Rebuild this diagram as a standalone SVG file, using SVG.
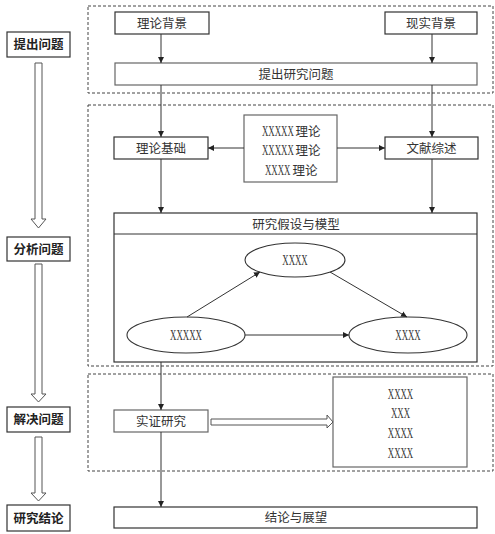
<svg xmlns="http://www.w3.org/2000/svg" width="495" height="534" viewBox="0 0 495 534">
<defs>
<marker id="ah" viewBox="0 0 10 10" refX="10" refY="5" markerWidth="6" markerHeight="6" orient="auto" markerUnits="userSpaceOnUse">
<path d="M0,0 L10,5 L0,10 z" fill="#222"/>
</marker>
<style>
.box{fill:#fff;stroke:#333;stroke-width:1.2}
.gbox{fill:#fff;stroke:#666;stroke-width:1.2}
.dash{fill:none;stroke:#444;stroke-width:1;stroke-dasharray:3,2}
.side{fill:#fff;stroke:#333;stroke-width:1.2}
.hollow{fill:#fff;stroke:#555;stroke-width:1}
.ln{fill:none;stroke:#333;stroke-width:1;marker-end:url(#ah)}
.pl{fill:none;stroke:#333;stroke-width:1}
.ell{fill:#fff;stroke:#333;stroke-width:1.1}
.lab{font-family:"Noto Sans CJK SC",sans-serif;font-size:12.5px;font-weight:bold;fill:#222;text-anchor:middle}
.zh{font-family:"Noto Sans CJK SC",sans-serif;font-size:12.5px;fill:#333;text-anchor:middle}
.x{font-family:"Liberation Serif",serif;font-size:14px;fill:#333}
.xc{font-family:"Liberation Serif",serif;font-size:14px;fill:#333;text-anchor:middle}
</style>
</defs>
<rect width="495" height="534" fill="#fff"/>

<!-- dashed regions -->
<rect class="dash" x="88" y="6" width="405" height="87"/>
<rect class="dash" x="88" y="105" width="405" height="261"/>
<rect class="dash" x="88" y="374" width="405" height="97"/>

<!-- left stage labels -->
<g id="stage1"><rect class="side" x="7" y="32" width="63" height="25"/><text class="lab" x="38.5" y="49">提出问题</text></g>
<g id="stage2"><rect class="side" x="7" y="237" width="63" height="24"/><text class="lab" x="38.5" y="253.5">分析问题</text></g>
<g id="stage3"><rect class="side" x="7" y="407" width="63" height="25"/><text class="lab" x="38.5" y="424">解决问题</text></g>
<g id="stage4"><rect class="side" x="7" y="505" width="63" height="26"/><text class="lab" x="38.5" y="522.5">研究结论</text></g>

<g id="bg-theory"><rect class="box" x="115" y="12" width="94" height="22"/><text class="zh" x="162" y="27.5">理论背景</text></g>
<g id="bg-reality"><rect class="box" x="385" y="12" width="92" height="22"/><text class="zh" x="431" y="27.5">现实背景</text></g>
<g id="question"><rect class="gbox" x="115" y="63" width="362" height="22"/><text class="zh" x="296" y="78.5">提出研究问题</text></g>

<g id="foundation"><rect class="box" x="114" y="137" width="94" height="22"/><text class="zh" x="161" y="152.5">理论基础</text></g>
<g id="review"><rect class="box" x="385" y="137" width="93" height="22"/><text class="zh" x="431.5" y="152.5">文献综述</text></g>
<g id="theories">
<rect class="gbox" x="244" y="115" width="93" height="67"/>
<text class="x" transform="translate(262,136) scale(0.63,1)">XXXXX</text><text class="zh" x="308" y="135.5">理论</text>
<text class="x" transform="translate(262,155) scale(0.63,1)">XXXXX</text><text class="zh" x="308" y="154.5">理论</text>
<text class="x" transform="translate(265,175) scale(0.63,1)">XXXX</text><text class="zh" x="305" y="174.5">理论</text>
</g>

<g id="model">
<rect class="box" x="114" y="213" width="363" height="149"/>
<line class="pl" x1="114" y1="234" x2="477" y2="234"/>
<text class="zh" x="296" y="228.5">研究假设与模型</text>
</g>
<g id="node-top"><ellipse class="ell" cx="295" cy="260" rx="50" ry="17"/><text class="xc" transform="translate(295,265) scale(0.63,1)">XXXX</text></g>
<g id="node-left"><ellipse class="ell" cx="186" cy="335" rx="59" ry="18"/><text class="xc" transform="translate(186,340) scale(0.63,1)">XXXXX</text></g>
<g id="node-right"><ellipse class="ell" cx="408" cy="335" rx="59" ry="18"/><text class="xc" transform="translate(408,340) scale(0.63,1)">XXXX</text></g>

<g id="empirical"><rect class="gbox" x="114" y="410" width="94" height="22"/><text class="zh" x="161" y="425.5">实证研究</text></g>
<g id="results">
<rect class="gbox" x="333" y="377" width="134" height="90"/>
<text class="xc" transform="translate(400.5,399) scale(0.63,1)">XXXX</text>
<text class="xc" transform="translate(400.5,418) scale(0.63,1)">XXX</text>
<text class="xc" transform="translate(400.5,438) scale(0.63,1)">XXXX</text>
<text class="xc" transform="translate(400.5,458) scale(0.63,1)">XXXX</text>
</g>
<g id="conclusion"><rect class="box" x="114" y="507" width="363" height="21"/><text class="zh" x="296" y="522">结论与展望</text></g>

<!-- hollow arrows -->
<g id="hollow-arrows">
<path class="hollow" d="M35,63 L42,63 L42,219 L46,219 L38.5,228 L31,219 L35,219 Z"/>
<path class="hollow" d="M35,264 L42,264 L42,394 L46,394 L38.5,402 L31,394 L35,394 Z"/>
<path class="hollow" d="M35,437 L42,437 L42,493 L46,493 L38.5,501 L31,493 L35,493 Z"/>
<path class="hollow" d="M211,419 L327,419 L327,415 L333,422 L327,428 L327,425 L211,425 Z"/>
</g>

<!-- connectors -->
<g id="connectors">
<line class="ln" x1="161" y1="34" x2="161" y2="63"/>
<line class="ln" x1="432" y1="34" x2="432" y2="63"/>
<line class="ln" x1="161" y1="85" x2="161" y2="137"/>
<line class="ln" x1="432" y1="85" x2="432" y2="137"/>
<line class="ln" x1="244" y1="148" x2="208" y2="148"/>
<line class="ln" x1="337" y1="148" x2="385" y2="148"/>
<line class="ln" x1="161" y1="159" x2="161" y2="213"/>
<line class="ln" x1="432" y1="159" x2="432" y2="213"/>
<line class="ln" x1="187" y1="317" x2="260" y2="272"/>
<line class="ln" x1="330" y1="272" x2="407" y2="317"/>
<line class="ln" x1="245" y1="335" x2="349" y2="335"/>
<line class="ln" x1="161" y1="362" x2="161" y2="410"/>
<line class="ln" x1="161" y1="432" x2="161" y2="507"/>
</g>
</svg>
